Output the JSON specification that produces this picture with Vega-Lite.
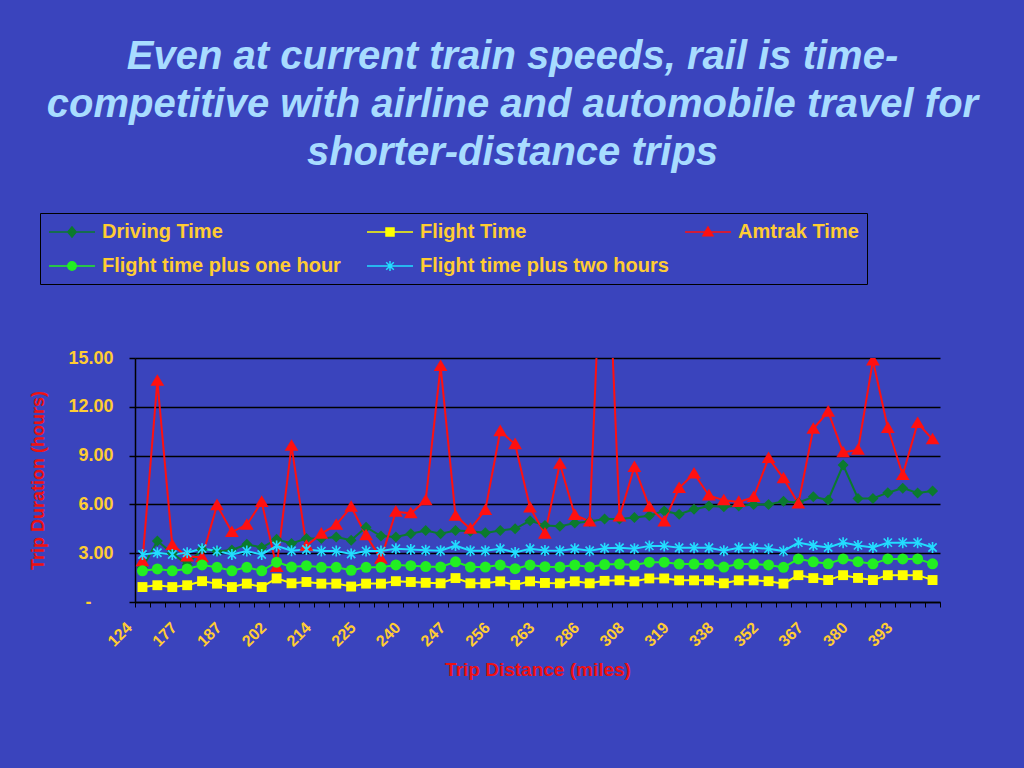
{
  "$schema": "https://vega.github.io/schema/vega-lite/v6.json",
  "width": 805,
  "height": 244,
  "autosize": {"type": "none"},
  "padding": {"left": 135, "top": 358, "right": 84, "bottom": 166},
  "background": "#3a44bd",
  "config": {"view": {"stroke": null}, "font": "Liberation Sans"},
  "title": {
    "text": ["Even at current train speeds, rail is time-", "competitive with airline and automobile travel for", "shorter-distance trips"],
    "font": "Liberation Sans", "fontSize": 40, "fontWeight": "bold", "fontStyle": "italic",
    "color": "#A8DCFF", "anchor": "middle", "frame": "group", "lineHeight": 48, "offset": 40, "dx": -25
  },
  "data": {"values": [
    {"m":124,"d":2.1,"f":0.92,"a":2.5,"f1":1.92,"f2":2.92},
    {"m":140,"d":3.75,"f":1.03,"a":13.6,"f1":2.03,"f2":3.03},
    {"m":163,"d":3.0,"f":0.92,"a":3.5,"f1":1.92,"f2":2.92},
    {"m":177,"d":2.3,"f":1.03,"a":2.8,"f1":2.03,"f2":3.03},
    {"m":180,"d":3.25,"f":1.28,"a":2.75,"f1":2.28,"f2":3.28},
    {"m":184,"d":3.1,"f":1.13,"a":5.95,"f1":2.13,"f2":3.13},
    {"m":187,"d":3.2,"f":0.92,"a":4.3,"f1":1.92,"f2":2.92},
    {"m":193,"d":3.55,"f":1.13,"a":4.75,"f1":2.13,"f2":3.13},
    {"m":198,"d":3.35,"f":0.92,"a":6.15,"f1":1.92,"f2":2.92},
    {"m":202,"d":3.85,"f":1.45,"a":2.15,"f1":2.45,"f2":3.45},
    {"m":206,"d":3.6,"f":1.15,"a":9.6,"f1":2.15,"f2":3.15},
    {"m":210,"d":3.9,"f":1.23,"a":3.45,"f1":2.23,"f2":3.23},
    {"m":214,"d":3.9,"f":1.13,"a":4.2,"f1":2.13,"f2":3.13},
    {"m":218,"d":4.0,"f":1.13,"a":4.75,"f1":2.13,"f2":3.13},
    {"m":221,"d":3.8,"f":0.95,"a":5.85,"f1":1.95,"f2":2.95},
    {"m":225,"d":4.6,"f":1.13,"a":4.1,"f1":2.13,"f2":3.13},
    {"m":230,"d":4.05,"f":1.13,"a":2.65,"f1":2.13,"f2":3.13},
    {"m":235,"d":4.0,"f":1.28,"a":5.55,"f1":2.28,"f2":3.28},
    {"m":240,"d":4.2,"f":1.23,"a":5.45,"f1":2.23,"f2":3.23},
    {"m":243,"d":4.4,"f":1.18,"a":6.25,"f1":2.18,"f2":3.18},
    {"m":245,"d":4.2,"f":1.15,"a":14.5,"f1":2.15,"f2":3.15},
    {"m":247,"d":4.4,"f":1.47,"a":5.3,"f1":2.47,"f2":3.47},
    {"m":250,"d":4.35,"f":1.15,"a":4.5,"f1":2.15,"f2":3.15},
    {"m":253,"d":4.25,"f":1.15,"a":5.65,"f1":2.15,"f2":3.15},
    {"m":256,"d":4.4,"f":1.27,"a":10.5,"f1":2.27,"f2":3.27},
    {"m":258,"d":4.5,"f":1.05,"a":9.7,"f1":2.05,"f2":3.05},
    {"m":261,"d":5.0,"f":1.27,"a":5.8,"f1":2.27,"f2":3.27},
    {"m":263,"d":4.7,"f":1.17,"a":4.2,"f1":2.17,"f2":3.17},
    {"m":270,"d":4.65,"f":1.15,"a":8.5,"f1":2.15,"f2":3.15},
    {"m":278,"d":4.85,"f":1.27,"a":5.35,"f1":2.27,"f2":3.27},
    {"m":286,"d":4.95,"f":1.15,"a":4.95,"f1":2.15,"f2":3.15},
    {"m":295,"d":5.1,"f":1.3,"a":27,"f1":2.3,"f2":3.3},
    {"m":301,"d":5.1,"f":1.33,"a":5.25,"f1":2.33,"f2":3.33},
    {"m":308,"d":5.2,"f":1.27,"a":8.3,"f1":2.27,"f2":3.27},
    {"m":311,"d":5.3,"f":1.45,"a":5.85,"f1":2.45,"f2":3.45},
    {"m":315,"d":5.6,"f":1.45,"a":4.95,"f1":2.45,"f2":3.45},
    {"m":319,"d":5.4,"f":1.33,"a":7.0,"f1":2.33,"f2":3.33},
    {"m":325,"d":5.7,"f":1.33,"a":7.9,"f1":2.33,"f2":3.33},
    {"m":331,"d":5.9,"f":1.33,"a":6.55,"f1":2.33,"f2":3.33},
    {"m":338,"d":5.85,"f":1.15,"a":6.25,"f1":2.15,"f2":3.15},
    {"m":343,"d":5.9,"f":1.33,"a":6.15,"f1":2.33,"f2":3.33},
    {"m":348,"d":6.0,"f":1.33,"a":6.45,"f1":2.33,"f2":3.33},
    {"m":352,"d":6.0,"f":1.28,"a":8.85,"f1":2.28,"f2":3.28},
    {"m":357,"d":6.2,"f":1.13,"a":7.6,"f1":2.13,"f2":3.13},
    {"m":362,"d":6.1,"f":1.65,"a":6.05,"f1":2.65,"f2":3.65},
    {"m":367,"d":6.47,"f":1.47,"a":10.65,"f1":2.47,"f2":3.47},
    {"m":371,"d":6.27,"f":1.35,"a":11.7,"f1":2.35,"f2":3.35},
    {"m":376,"d":8.42,"f":1.65,"a":9.2,"f1":2.65,"f2":3.65},
    {"m":380,"d":6.37,"f":1.48,"a":9.35,"f1":2.48,"f2":3.48},
    {"m":385,"d":6.37,"f":1.35,"a":14.85,"f1":2.35,"f2":3.35},
    {"m":389,"d":6.72,"f":1.65,"a":10.7,"f1":2.65,"f2":3.65},
    {"m":393,"d":7.0,"f":1.65,"a":7.8,"f1":2.65,"f2":3.65},
    {"m":398,"d":6.7,"f":1.65,"a":11.0,"f1":2.65,"f2":3.65},
    {"m":404,"d":6.82,"f":1.35,"a":10.0,"f1":2.35,"f2":3.35}
  ]},
  "transform": [{"fold": ["d", "f", "a", "f1", "f2"], "as": ["series", "hours"]}],
  "encoding": {
    "x": {
      "field": "m", "type": "ordinal",
      "scale": {"type": "band", "paddingInner": 0, "paddingOuter": 0},
      "title": "Trip Distance (miles)",
      "axis": {
        "labelExpr": "indexof([124,177,187,202,214,225,240,247,256,263,286,308,319,338,352,367,380,393], datum.value) >= 0 ? datum.label : ''",
        "labelAngle": -45, "labelColor": "#FFCC33", "labelFontSize": 16, "labelFontWeight": "bold",
        "labelFont": "Liberation Sans", "labelPadding": 12, "labelOffset": -19, "labelOverlap": false, "tickBand": "extent",
        "domainColor": "black", "domainWidth": 1.5, "tickColor": "black", "tickSize": 5, "tickWidth": 1,
        "grid": false, "titleColor": "#EE1111", "titleFontSize": 19, "titleFontWeight": "bold",
        "titleFont": "Liberation Sans", "titlePadding": 11
      }
    },
    "y": {
      "field": "hours", "type": "quantitative",
      "scale": {"domain": [0, 15], "nice": false},
      "title": "Trip Duration (hours)",
      "axis": {
        "values": [0, 3, 6, 9, 12, 15],
        "labelExpr": "datum.value === 0 ? '-' : format(datum.value, '.2f')",
        "labelColor": "#FFCC33", "labelFontSize": 18, "labelFontWeight": "bold", "labelFont": "Liberation Sans",
        "labelPadding": {"condition": {"test": "datum.value === 0", "value": 38}, "value": 16},
        "grid": true, "gridColor": "black", "gridWidth": 1.5, "gridOpacity": 1,
        "domainColor": "black", "domainWidth": 1.5, "tickColor": "black", "tickSize": 6, "tickWidth": 1.5,
        "titleColor": "#EE1111", "titleFontSize": 18, "titleFontWeight": "bold", "titleFont": "Liberation Sans",
        "titlePadding": 20
      }
    }
  },
  "layer": [
    {
      "transform": [{"filter": "datum.hours < 0"}],
      "mark": {"type": "point", "filled": true, "opacity": 1, "strokeWidth": 1.5},
      "encoding": {
        "color": {"field": "series", "type": "nominal",
          "scale": {"domain": ["d", "f", "a", "f1", "f2"], "range": ["#0B7A2E", "#FFFF00", "#FF1010", "#22EE22", "#22DDFF"]},
          "legend": {"orient": "none", "legendX": -95, "legendY": -145, "direction": "horizontal", "columns": 3, "gridAlign": "all", "title": null,
            "labelExpr": "datum.value === 'd' ? 'Driving Time' : datum.value === 'f' ? 'Flight Time' : datum.value === 'a' ? 'Amtrak Time' : datum.value === 'f1' ? 'Flight time plus one hour' : 'Flight time plus two hours'",
            "labelFont": "Liberation Sans", "labelFontWeight": "bold", "labelFontSize": 20, "labelColor": "#FFCC33", "labelLimit": 400,
            "symbolSize": 400, "symbolOffset": 13, "labelOffset": 19, "symbolStrokeWidth": 1.5, "symbolOpacity": 1, "strokeColor": "black", "padding": 8, "rowPadding": 13, "columnPadding": 13}},
        "shape": {"field": "series", "type": "nominal",
          "scale": {"domain": ["d", "f", "a", "f1", "f2"], "range": [
            "M-2.3,0H2.3M0,-0.5L0.42,0L0,0.5L-0.42,0Z",
            "M-2.3,0H2.3M-0.4,-0.4H0.4V0.4H-0.4Z",
            "M-2.3,0H2.3M0,-0.5L0.5,0.38H-0.5Z",
            "M-2.3,0H2.3M-0.42,0A0.42,0.42,0,1,0,0.42,0A0.42,0.42,0,1,0,-0.42,0Z",
            "M-2.3,0H2.3M0,-0.5V0.5M-0.38,-0.38L0.38,0.38M-0.38,0.38L0.38,-0.38"]},
          "legend": {"orient": "none", "legendX": -95, "legendY": -145, "direction": "horizontal", "columns": 3, "gridAlign": "all", "title": null,
            "labelExpr": "datum.value === 'd' ? 'Driving Time' : datum.value === 'f' ? 'Flight Time' : datum.value === 'a' ? 'Amtrak Time' : datum.value === 'f1' ? 'Flight time plus one hour' : 'Flight time plus two hours'",
            "labelFont": "Liberation Sans", "labelFontWeight": "bold", "labelFontSize": 20, "labelColor": "#FFCC33", "labelLimit": 400,
            "symbolSize": 400, "symbolOffset": 13, "labelOffset": 19, "symbolStrokeWidth": 1.5, "symbolOpacity": 1, "strokeColor": "black", "padding": 8, "rowPadding": 13, "columnPadding": 13}},
        "stroke": {"field": "series", "type": "nominal",
          "scale": {"domain": ["d", "f", "a", "f1", "f2"], "range": ["#0B7A2E", "#FFFF00", "#FF1010", "#22EE22", "#22DDFF"]},
          "legend": {"orient": "none", "legendX": -95, "legendY": -145, "direction": "horizontal", "columns": 3, "gridAlign": "all", "title": null,
            "labelExpr": "datum.value === 'd' ? 'Driving Time' : datum.value === 'f' ? 'Flight Time' : datum.value === 'a' ? 'Amtrak Time' : datum.value === 'f1' ? 'Flight time plus one hour' : 'Flight time plus two hours'",
            "labelFont": "Liberation Sans", "labelFontWeight": "bold", "labelFontSize": 20, "labelColor": "#FFCC33", "labelLimit": 400,
            "symbolSize": 400, "symbolOffset": 13, "labelOffset": 19, "symbolStrokeWidth": 1.5, "symbolOpacity": 1, "strokeColor": "black", "padding": 8, "rowPadding": 13, "columnPadding": 13}}
      }
    },
    {
      "mark": {"type": "line", "strokeWidth": 2, "clip": true},
      "encoding": {"color": {"field": "series", "type": "nominal"}}
    },
    {
      "transform": [{"filter": "datum.series === 'd'"}],
      "mark": {"type": "point", "filled": true, "opacity": 1, "clip": true, "size": 121, "shape": "M0,-1L1,0L0,1L-1,0Z"},
      "encoding": {"color": {"field": "series", "type": "nominal"}}
    },
    {
      "transform": [{"filter": "datum.series === 'f'"}],
      "mark": {"type": "point", "filled": true, "opacity": 1, "clip": true, "size": 121, "shape": "M-0.9,-0.9H0.9V0.9H-0.9Z"},
      "encoding": {"color": {"field": "series", "type": "nominal"}}
    },
    {
      "transform": [{"filter": "datum.series === 'a'"}],
      "mark": {"type": "point", "filled": true, "opacity": 1, "clip": true, "size": 121, "shape": "M0,-1.2L1.25,0.9H-1.25Z"},
      "encoding": {"color": {"field": "series", "type": "nominal"}}
    },
    {
      "transform": [{"filter": "datum.series === 'f1'"}],
      "mark": {"type": "point", "filled": true, "opacity": 1, "clip": true, "size": 121, "shape": "circle"},
      "encoding": {"color": {"field": "series", "type": "nominal"}}
    },
    {
      "transform": [{"filter": "datum.series === 'f2'"}],
      "mark": {"type": "point", "filled": true, "opacity": 1, "clip": true, "size": 121, "shape": "M-0.15,-1H0.15V1H-0.15Z M-0.856,-0.644L-0.644,-0.856L0.856,0.644L0.644,0.856Z M-0.644,0.856L-0.856,0.644L0.644,-0.856L0.856,-0.644Z"},
      "encoding": {"color": {"field": "series", "type": "nominal"}}
    }
  ]
}
